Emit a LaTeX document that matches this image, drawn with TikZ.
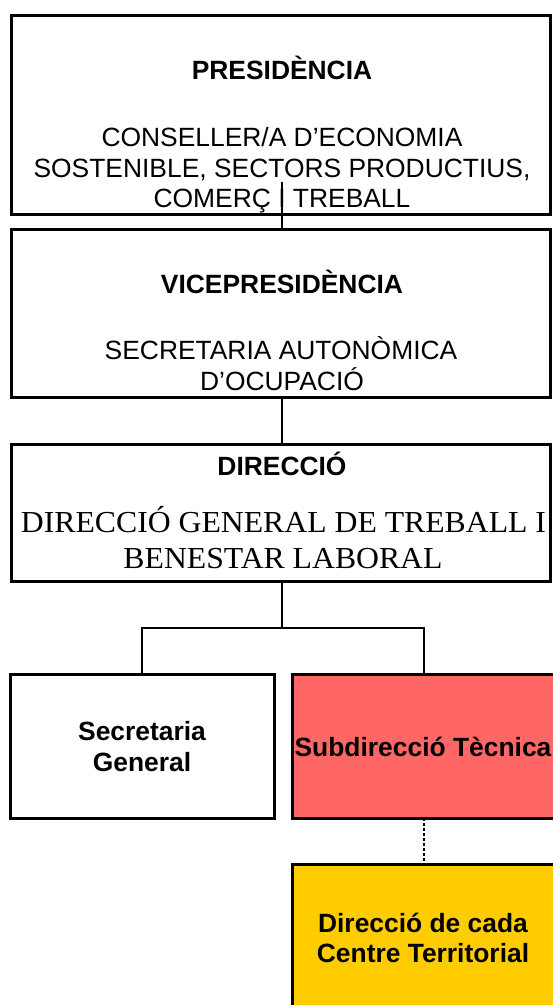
\documentclass[tikz,border=0pt]{standalone}
\usepackage{fontspec}
\usepackage{graphicx}
\setmainfont{Liberation Sans}
\newfontfamily\seriffont{Liberation Serif}
\definecolor{redbox}{HTML}{FF6666}
\definecolor{yellowbox}{HTML}{FFCC00}
\begin{document}
\begin{tikzpicture}[x=1pt,y=-1pt,
  box/.style={draw=black,line width=3pt,rectangle,inner sep=0pt,outer sep=0pt,fill=white},
  conn/.style={draw=black,line width=1.8pt},
  dotconn/.style={draw=black,line width=1.8pt,dash pattern=on 3pt off 2pt},
  txt/.style={anchor=base,inner sep=0pt,font=\fontsize{26.4}{30}\selectfont},
  btxt/.style={anchor=base,inner sep=0pt,font=\fontsize{26.4}{30}\selectfont\bfseries},
  stxt/.style={anchor=base,inner sep=0pt,font=\seriffont\fontsize{30.5}{34}\selectfont}]
\useasboundingbox (0,0) rectangle (553,1005);
\fill[white] (0,0) rectangle (553,1005);
% boxes
\node[box,minimum width=539pt,minimum height=199pt] (p) at (280.5,114.5) {};
\node[box,minimum width=539pt,minimum height=168pt] (v) at (280.5,313) {};
\node[box,minimum width=539pt,minimum height=137pt] (d) at (280.5,512.5) {};
\node[box,minimum width=264pt,minimum height=144pt] (s) at (142,746) {};
\node[box,fill=redbox,minimum width=264pt,minimum height=144pt] (t) at (424,746) {};
\node[box,fill=yellowbox,minimum width=264pt,minimum height=145pt] (c) at (424,936.5) {};
% texts
\node[btxt] (p1) at (282,79) {PRESIDÈNCIA};
\node[txt] (p2) at (282,146) {CONSELLER/A D’ECONOMIA};
\node[txt] (p3) at (282,177) {SOSTENIBLE, SECTORS PRODUCTIUS,};
\node[txt] (p4) at (282,207) {COMERÇ I TREBALL};
\node[btxt] (v1) at (282,293) {VICEPRESIDÈNCIA};
\node[txt] (v2) at (281,359) {SECRETARIA AUTONÒMICA};
\node[txt] (v3) at (282,390) {D’OCUPACIÓ};
\node[btxt] (d1) at (282,475) {DIRECCIÓ};
\node[stxt] (d2) at (283.5,532.5) {\scalebox{1.04}[1]{DIRECCIÓ GENERAL DE TREBALL I}};
\node[stxt] (d3) at (283,568) {\scalebox{1.04}[1]{BENESTAR LABORAL}};
\node[btxt] (s1) at (142,740) {Secretaria};
\node[btxt] (s2) at (142,771) {General};
\node[btxt] (t1) at (423,756) {Subdirecció Tècnica};
\node[btxt] (c1) at (423,932) {Direcció de cada};
\node[btxt] (c2) at (423,962) {Centre Territorial};
% connectors
\coordinate (pin) at (282,182);
\coordinate (j) at (282,628);
\draw[conn] (pin) -- (pin |- v.north);
\draw[conn] (v.south -| pin) -- (d.north -| pin);
\draw[conn] (d.south -| j) -- (j);
\draw[conn] (s.north) |- (j) -| (t.north);
\draw[dotconn] (t.south) -- (c.north);
\end{tikzpicture}
\end{document}
